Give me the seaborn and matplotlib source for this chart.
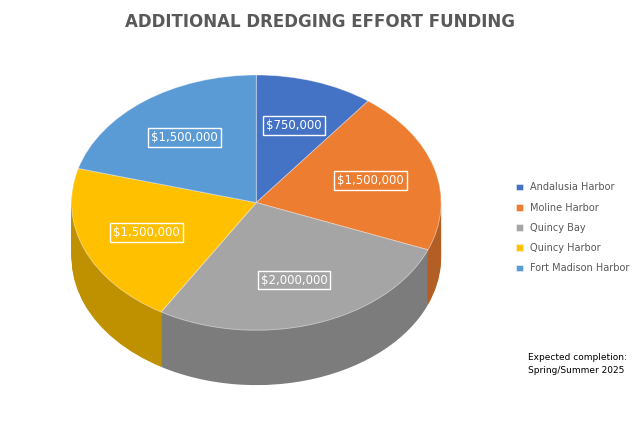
import matplotlib
matplotlib.use("Agg")
import matplotlib.pyplot as plt
import seaborn as sns
import numpy as np
from matplotlib.colors import to_rgb

categories = ["Andalusia Harbor", "Moline Harbor", "Quincy Bay", "Quincy Harbor", "Fort Madison Harbor"]
values = [750000, 1500000, 2000000, 1500000, 1500000]
colors = ["#4472C4", "#ED7D31", "#A5A5A5", "#FFC000", "#5B9BD5"]

sns.set_theme(style="white")
pal = sns.color_palette(colors)
total = sum(values)

fig = plt.figure(figsize=(6.4, 4.26), dpi=100)
ax = fig.add_axes([0.106, 0.096, 0.589, 0.728])
depth = 0.43
dark = [tuple(c * 0.75 for c in to_rgb(col)) for col in pal]
for d in np.linspace(depth, 0.01, 30):
    ax.pie(values, colors=dark, startangle=90, counterclock=False,
           center=(0, -d), wedgeprops=dict(linewidth=0))
wedges, texts, autotexts = ax.pie(
    values, colors=pal, startangle=90, counterclock=False,
    wedgeprops=dict(linewidth=0.6, edgecolor=(1, 1, 1, 0.5)),
    autopct=lambda p: f"${p * total / 100:,.0f}", pctdistance=0.64,
    textprops=dict(color="white", fontsize=8.5))
for t in autotexts:
    t.set_bbox(dict(boxstyle="square,pad=0.25", facecolor="none", edgecolor="white", linewidth=1))
ax.set_aspect("auto")
ax.set_xlim(-1.02, 1.02)
ax.set_ylim(-1 - depth, 1.0)
ax.axis("off")

fig.text(0.5, 0.948, "ADDITIONAL DREDGING EFFORT FUNDING", ha="center", va="center",
         fontsize=12, fontweight="bold", color="#595959")
fig.legend(wedges, categories, loc="center left", bbox_to_anchor=(0.8, 0.465),
           frameon=False, fontsize=7, handlelength=0.7, handleheight=0.7,
           labelcolor="#595959", borderaxespad=0, labelspacing=1.05)
fig.text(0.825, 0.145, "Expected completion:\nSpring/Summer 2025", fontsize=6.5,
         color="black", ha="left", va="center", linespacing=1.5)
fig.savefig("out.png", dpi=100)
